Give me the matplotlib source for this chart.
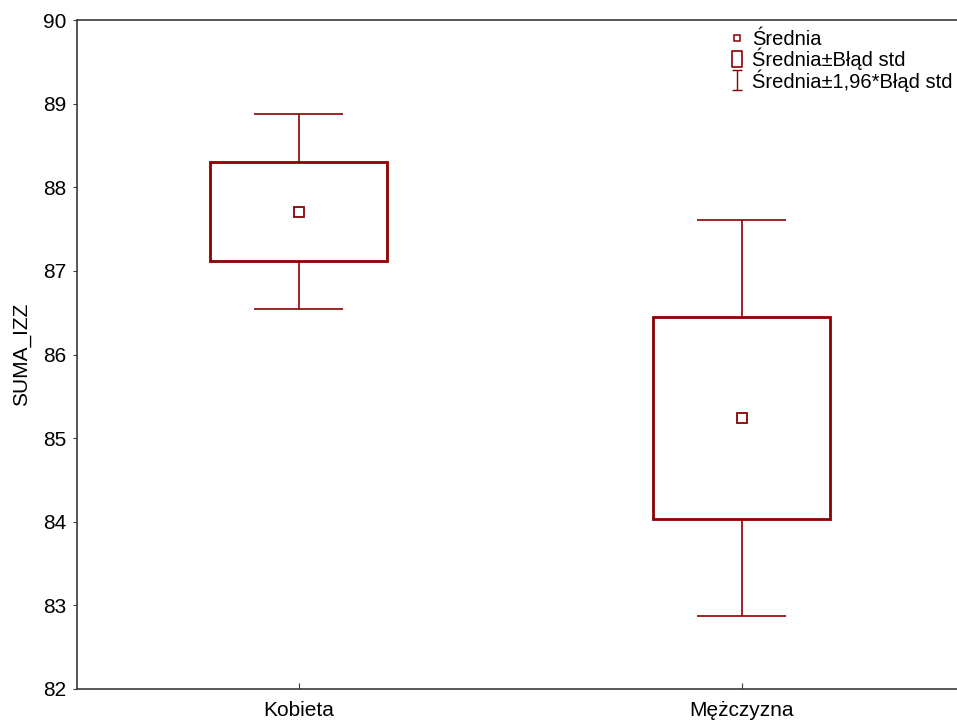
import matplotlib
matplotlib.use("Agg")
import matplotlib.pyplot as plt
from matplotlib.lines import Line2D
from matplotlib.patches import Rectangle
from matplotlib.path import Path
import numpy as np

plt.rcParams['font.family'] = ['Liberation Sans', 'DejaVu Sans']

categories = ["Kobieta", "Mężczyzna"]
means = [87.71, 85.24]
std_err = [0.59, 1.21]
ci_half = [1.16, 2.37]
yticks = [82, 83, 84, 85, 86, 87, 88, 89, 90]

red = "#8B0000"
spine_col = "#3a3a3a"
fs = 15

fig = plt.figure(figsize=(9.57, 7.2), dpi=100)
ax = fig.add_axes([77/957, 31/720, 880/957, 669/720])

x = np.arange(len(categories))
box_w = 0.4
cap_w = 0.2
for xi, m, se, ci in zip(x, means, std_err, ci_half):
    ax.add_patch(Rectangle((xi - box_w/2, m - se), box_w, 2*se, fill=False,
                           edgecolor=red, linewidth=2.0, zorder=3))
    ax.vlines(xi, m + se, m + ci, color=red, linewidth=1.2, zorder=2)
    ax.vlines(xi, m - ci, m - se, color=red, linewidth=1.2, zorder=2)
    ax.hlines([m + ci, m - ci], xi - cap_w/2, xi + cap_w/2, color=red, linewidth=1.2, zorder=2)
ax.plot(x, means, linestyle='none', marker='s', markersize=7, markerfacecolor='white',
        markeredgecolor=red, markeredgewidth=1.3, zorder=4)

ax.set_xlim(-0.5, 1.486)
ax.set_ylim(82, 90)
ax.set_yticks(yticks)
ax.set_xticks(x)
ax.set_xticklabels(categories)
ax.set_ylabel("SUMA_IZZ", fontsize=fs, labelpad=8)
ax.tick_params(axis='y', direction='out', length=3, labelsize=fs, color=spine_col, pad=5)
ax.tick_params(axis='x', direction='in', length=4, labelsize=fs, color=spine_col, pad=9)
for s in ['left', 'bottom', 'top']:
    ax.spines[s].set_color(spine_col)
    ax.spines[s].set_linewidth(1.2)
ax.spines['right'].set_visible(False)

ibar = Path([(-0.24, 0.5), (0.24, 0.5), (0, 0.5), (0, -0.5), (-0.24, -0.5), (0.24, -0.5)],
            [Path.MOVETO, Path.LINETO, Path.MOVETO, Path.LINETO, Path.MOVETO, Path.LINETO])
rect = Path([(-0.28, -0.5), (0.28, -0.5), (0.28, 0.5), (-0.28, 0.5), (-0.28, -0.5)],
            [Path.MOVETO, Path.LINETO, Path.LINETO, Path.LINETO, Path.CLOSEPOLY])
handles = [
    Line2D([], [], linestyle='none', marker='s', markersize=4.5, markerfacecolor='white',
           markeredgecolor=red, markeredgewidth=1.1),
    Line2D([], [], linestyle='none', marker=rect, markersize=12, markerfacecolor='white',
           markeredgecolor=red, markeredgewidth=1.2),
    Line2D([], [], linestyle='none', marker=ibar, markersize=14,
           markeredgecolor=red, markeredgewidth=1.0),
]
labels = ["Średnia", "Średnia±Błąd std", "Średnia±1,96*Błąd std"]
ax.legend(handles, labels, loc='upper right', frameon=False, fontsize=14.5,
          handlelength=0.8, handleheight=0.9, handletextpad=0.35, labelspacing=-0.07,
          borderpad=0.1, borderaxespad=0.0, bbox_to_anchor=(0.997, 0.988))

fig.savefig("out.png", dpi=100)
